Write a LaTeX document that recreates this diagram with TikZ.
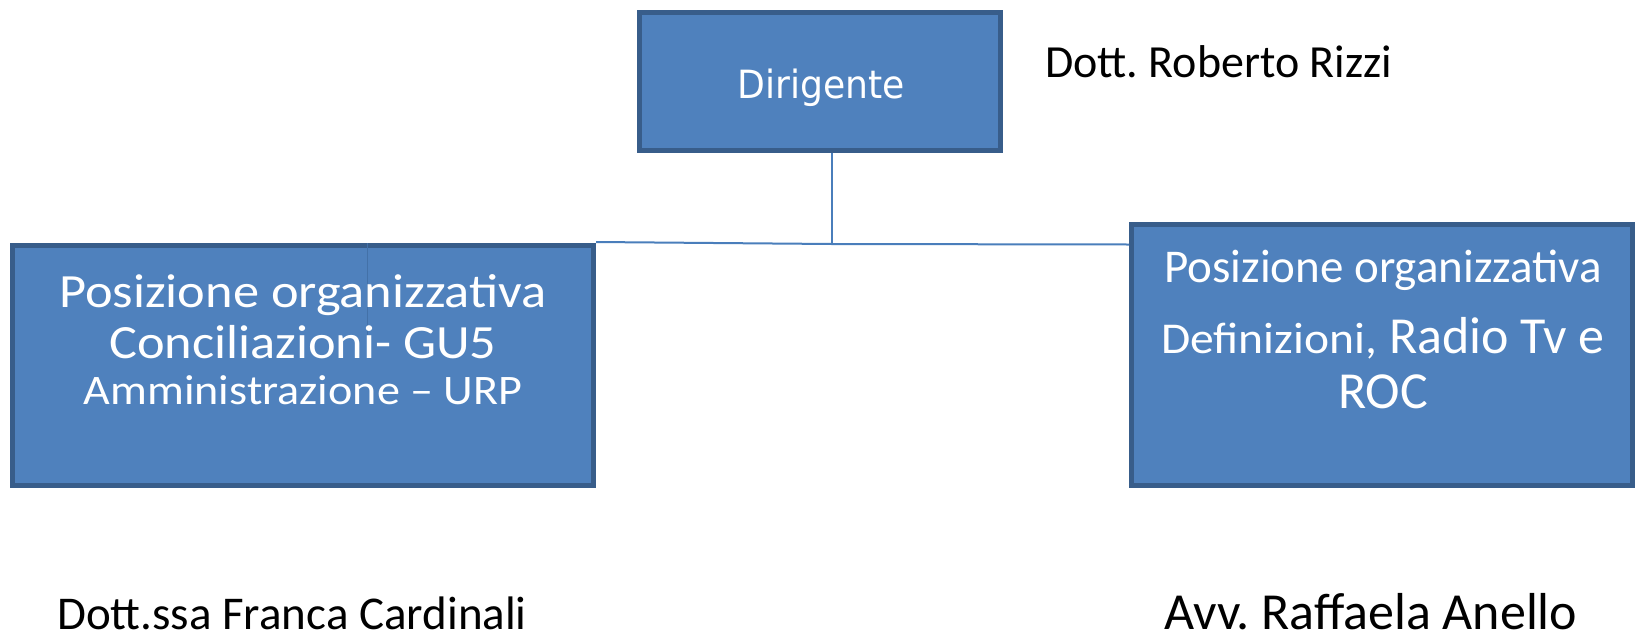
\documentclass[tikz,border=0pt]{standalone}
\usepackage{fontspec}
\setmainfont{Carlito}
\newfontfamily\djv[FakeStretch=0.93]{DejaVu Sans}
\newfontfamily\widecal[FakeStretch=1.098]{Carlito}
\newfontfamily\defcal[FakeStretch=1.08]{Carlito}
\definecolor{boxfill}{HTML}{4F81BD}
\definecolor{boxline}{HTML}{385D8A}
\definecolor{connline}{HTML}{4A7EBB}
\tikzset{
  orgbox/.style={draw=boxline, fill=boxfill, line width=5pt, rectangle, inner sep=0pt},
  conn/.style={draw=connline, line width=2pt},
  thinconn/.style={draw=connline!90!black, line width=1pt},
  wtxt/.style={text=white, inner sep=0pt, anchor=base},
  btxt/.style={text=black, inner sep=0pt, anchor=base west}
}
\frenchspacing
\begin{document}
\begin{tikzpicture}[x=1pt,y=-1pt]
\useasboundingbox (0,0) rectangle (1635,640);
% boxes
\node[orgbox, minimum width=361pt, minimum height=138pt] (dir) at (820,81) {};
\node[orgbox, minimum width=581pt, minimum height=240pt] (lb) at (303,365.5) {};
\node[orgbox, minimum width=501pt, minimum height=261pt] (rb) at (1382,355) {};
% connectors
\coordinate (j) at (832,244);
\draw[conn] (j |- dir.south) -- (j);
\draw[conn] ([yshift=1pt]lb.north east) -- (j) -- ([yshift=-0.5pt]rb.west |- j);
\coordinate (t1) at (367,243);
\coordinate (t2) at (367,358);
\draw[thinconn] (t1) -- (t2);
% texts in boxes
\node[wtxt] (tdir) at (821,98) {\djv\fontsize{38.9}{45}\selectfont Dirigente};
\node[wtxt] (l1) at (303,307) {\widecal\fontsize{47.7}{55}\selectfont Posizione organizzativa};
\node[wtxt] (l2) at (303,358) {\widecal\fontsize{47.7}{55}\selectfont Conciliazioni- GU5};
\node[wtxt] (l3) at (303,404) {\widecal\fontsize{42}{48}\selectfont Amministrazione – URP};
\node[wtxt] (r1) at (1383,282) {\fontsize{47}{55}\selectfont Posizione organizzativa};
\node[wtxt] (r2) at (1383,353) {{\defcal\fontsize{44}{50}\selectfont Definizioni,}\hspace{12pt}{\fontsize{52}{58}\selectfont Radio Tv e}};
\node[wtxt] (r3) at (1383,408) {\fontsize{52}{58}\selectfont ROC};
% names
\node[btxt] (n1) at (1045,77) {\fontsize{46}{52}\selectfont Dott. Roberto Rizzi};
\node[btxt] (n2) at (57,629) {\fontsize{47}{52}\selectfont Dott.ssa Franca Cardinali};
\node[btxt] (n3) at (1164,629) {\fontsize{52}{58}\selectfont Avv. Raffaela Anello};
\end{tikzpicture}
\end{document}
